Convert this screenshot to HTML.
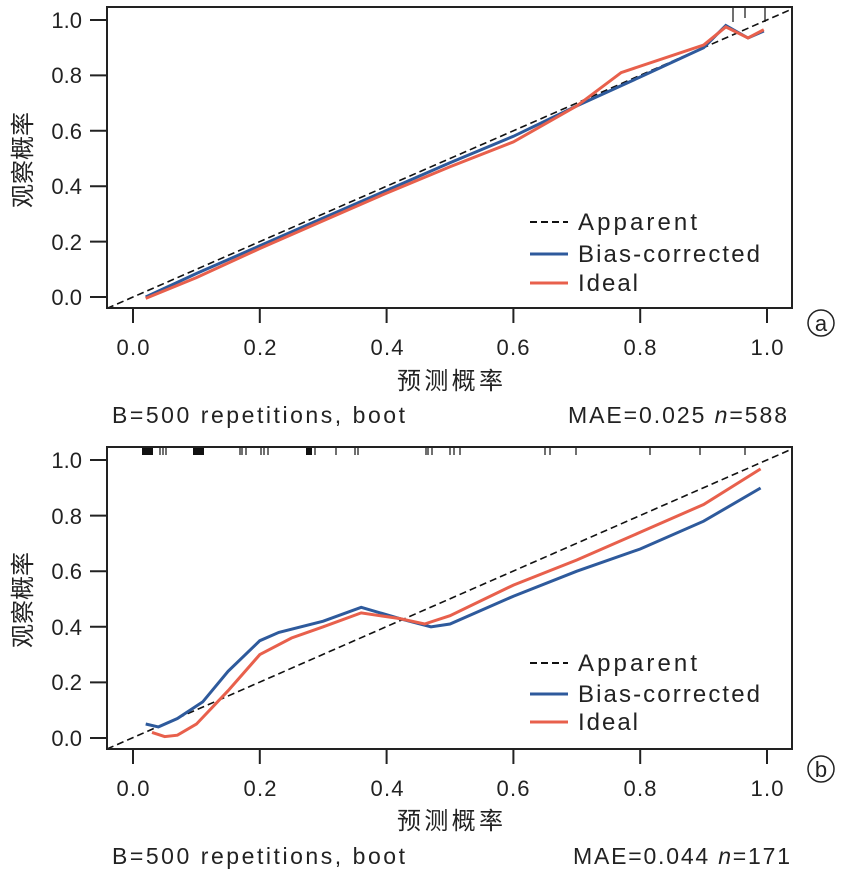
<!DOCTYPE html>
<html><head><meta charset="utf-8"><style>
body{margin:0;background:#fff;}
svg text{font-family:"Liberation Sans","Noto Sans CJK SC",sans-serif;fill:#222;}
</style></head><body>
<svg width="848" height="876" viewBox="0 0 848 876" xmlns="http://www.w3.org/2000/svg">
<!-- TOP PANEL -->
<g>
<line x1="107" y1="308.4" x2="792" y2="9" stroke="#111" stroke-width="1.6" stroke-dasharray="7,4"/>
<polyline fill="none" stroke="#2e5a9c" stroke-width="3" points="145.7,297 196.4,273.5 259.8,245.8 323.2,218 386.6,190.4 450,162.7 513.4,136.3 576.8,105.9 640.2,77 703.6,47.7 725.8,25.5 748,38 763.8,31"/>
<polyline fill="none" stroke="#e8604c" stroke-width="3" points="145.7,298.4 196.4,277.6 259.8,248.5 323.2,220.8 386.6,193.1 450,166.8 513.4,141.9 576.8,105.9 621.2,72.6 703.6,45 725.8,26.9 748,38 763.8,29.7"/>
<g stroke="#111" stroke-width="1.2"><line x1="733" y1="7" x2="733" y2="22"/><line x1="745" y1="7" x2="745" y2="18"/><line x1="765" y1="7" x2="765" y2="22"/></g>
<rect x="107" y="7" width="685" height="301" fill="none" stroke="#222" stroke-width="2"/>
<g stroke="#222" stroke-width="2">
<line x1="90" y1="20" x2="107" y2="20"/><line x1="90" y1="75.4" x2="107" y2="75.4"/><line x1="90" y1="130.8" x2="107" y2="130.8"/><line x1="90" y1="186.2" x2="107" y2="186.2"/><line x1="90" y1="241.6" x2="107" y2="241.6"/><line x1="90" y1="297" x2="107" y2="297"/>
<line x1="133" y1="308" x2="133" y2="323"/><line x1="259.8" y1="308" x2="259.8" y2="323"/><line x1="386.6" y1="308" x2="386.6" y2="323"/><line x1="513.4" y1="308" x2="513.4" y2="323"/><line x1="640.2" y1="308" x2="640.2" y2="323"/><line x1="767" y1="308" x2="767" y2="323"/>
</g>
<g font-size="22" text-anchor="end"><text x="82" y="28">1.0</text><text x="82" y="83">0.8</text><text x="82" y="139">0.6</text><text x="82" y="194">0.4</text><text x="82" y="250">0.2</text><text x="82" y="305">0.0</text></g>
<g font-size="22" text-anchor="middle"><text x="133" y="355" textLength="33">0.0</text><text x="260" y="355" textLength="33">0.2</text><text x="387" y="355" textLength="33">0.4</text><text x="513" y="355" textLength="33">0.6</text><text x="640" y="355" textLength="33">0.8</text><text x="767" y="355" textLength="33">1.0</text></g>
<text x="397" y="389" font-size="24" textLength="106">预测概率</text>
<text transform="translate(31,160) rotate(-90)" font-size="24" text-anchor="middle">观察概率</text>
<line x1="530" y1="222" x2="568" y2="222" stroke="#111" stroke-width="2" stroke-dasharray="7,4"/>
<line x1="530" y1="254" x2="568" y2="254" stroke="#2e5a9c" stroke-width="3"/>
<line x1="530" y1="283" x2="568" y2="283" stroke="#e8604c" stroke-width="3"/>
<g font-size="24"><text x="578" y="230" textLength="119">Apparent</text><text x="578" y="262" textLength="182">Bias-corrected</text><text x="578" y="291" textLength="60">Ideal</text></g>
<text x="112" y="423" font-size="23" textLength="293">B=500 repetitions, boot</text>
<text x="568" y="423" font-size="23" textLength="219">MAE=0.025 <tspan font-style="italic">n</tspan>=588</text>
<circle cx="821" cy="323" r="13" fill="none" stroke="#222" stroke-width="1.5"/><text x="821" y="331" font-size="22" text-anchor="middle">a</text>
</g>
<!-- BOTTOM PANEL -->
<g>
<line x1="107" y1="749" x2="792" y2="449" stroke="#111" stroke-width="1.6" stroke-dasharray="7,4"/>
<polyline fill="none" stroke="#2e5a9c" stroke-width="3" points="145.7,724 158.4,726.9 177.4,718.5 202.7,701.9 228.1,671.3 259.8,640.7 278.8,632.4 323.2,621.2 361.2,607.3 399.3,618.5 431,626.8 450,624 513.4,596.2 576.8,571.2 640.2,549 703.6,521.2 760.6,488"/>
<polyline fill="none" stroke="#e8604c" stroke-width="3" points="152,732.4 164.7,736.6 177.4,735.2 196.4,724.1 228.1,690.7 259.8,654.6 291.5,638 323.2,626.8 361.2,612.9 399.3,618.5 424.6,624 450,615.7 513.4,585.1 576.8,560 640.2,532.3 703.6,504.5 760.6,468.9"/>
<g stroke="#111" stroke-width="1.2">
<rect x="142" y="448" width="11" height="7" fill="#111" stroke="none"/><line x1="160" y1="448" x2="160" y2="455"/><line x1="163" y1="448" x2="163" y2="455"/><line x1="166" y1="448" x2="166" y2="455"/>
<rect x="193" y="448" width="11" height="7" fill="#111" stroke="none"/>
<line x1="240" y1="448" x2="240" y2="455"/><line x1="242" y1="448" x2="242" y2="455"/><line x1="246" y1="448" x2="246" y2="455"/>
<line x1="261" y1="448" x2="261" y2="455"/><line x1="264" y1="448" x2="264" y2="455"/><line x1="268" y1="448" x2="268" y2="455"/>
<rect x="306" y="448" width="6" height="7" fill="#111" stroke="none"/><line x1="315" y1="448" x2="315" y2="455"/>
<line x1="336" y1="448" x2="336" y2="455"/><line x1="355" y1="448" x2="355" y2="455"/><line x1="358" y1="448" x2="358" y2="455"/>
<line x1="426" y1="448" x2="426" y2="455"/><line x1="428" y1="448" x2="428" y2="455"/><line x1="432" y1="448" x2="432" y2="455"/>
<line x1="450" y1="448" x2="450" y2="455"/><line x1="454" y1="448" x2="454" y2="455"/><line x1="460" y1="448" x2="460" y2="455"/>
<line x1="545" y1="448" x2="545" y2="455"/><line x1="550" y1="448" x2="550" y2="455"/><line x1="576" y1="448" x2="576" y2="455"/>
<line x1="650" y1="448" x2="650" y2="455"/><line x1="700" y1="448" x2="700" y2="455"/><line x1="745" y1="448" x2="745" y2="455"/>
</g>
<rect x="107" y="447" width="685" height="302" fill="none" stroke="#222" stroke-width="2"/>
<g stroke="#222" stroke-width="2">
<line x1="90" y1="460" x2="107" y2="460"/><line x1="90" y1="515.6" x2="107" y2="515.6"/><line x1="90" y1="571.2" x2="107" y2="571.2"/><line x1="90" y1="626.8" x2="107" y2="626.8"/><line x1="90" y1="682.4" x2="107" y2="682.4"/><line x1="90" y1="738" x2="107" y2="738"/>
<line x1="133" y1="749" x2="133" y2="764"/><line x1="259.8" y1="749" x2="259.8" y2="764"/><line x1="386.6" y1="749" x2="386.6" y2="764"/><line x1="513.4" y1="749" x2="513.4" y2="764"/><line x1="640.2" y1="749" x2="640.2" y2="764"/><line x1="767" y1="749" x2="767" y2="764"/>
</g>
<g font-size="22" text-anchor="end"><text x="82" y="468">1.0</text><text x="82" y="524">0.8</text><text x="82" y="579">0.6</text><text x="82" y="635">0.4</text><text x="82" y="690">0.2</text><text x="82" y="746">0.0</text></g>
<g font-size="22" text-anchor="middle"><text x="133" y="796" textLength="33">0.0</text><text x="260" y="796" textLength="33">0.2</text><text x="387" y="796" textLength="33">0.4</text><text x="513" y="796" textLength="33">0.6</text><text x="640" y="796" textLength="33">0.8</text><text x="767" y="796" textLength="33">1.0</text></g>
<text x="397" y="829" font-size="24" textLength="106">预测概率</text>
<text transform="translate(31,600) rotate(-90)" font-size="24" text-anchor="middle">观察概率</text>
<line x1="530" y1="663" x2="568" y2="663" stroke="#111" stroke-width="2" stroke-dasharray="7,4"/>
<line x1="530" y1="694" x2="568" y2="694" stroke="#2e5a9c" stroke-width="3"/>
<line x1="530" y1="722" x2="568" y2="722" stroke="#e8604c" stroke-width="3"/>
<g font-size="24"><text x="578" y="671" textLength="119">Apparent</text><text x="578" y="702" textLength="182">Bias-corrected</text><text x="578" y="730" textLength="60">Ideal</text></g>
<text x="112" y="864" font-size="23" textLength="293">B=500 repetitions, boot</text>
<text x="573" y="864" font-size="23" textLength="217">MAE=0.044 <tspan font-style="italic">n</tspan>=171</text>
<circle cx="821" cy="769" r="13" fill="none" stroke="#222" stroke-width="1.5"/><text x="821" y="777" font-size="22" text-anchor="middle">b</text>
</g>
</svg>
</body></html>
